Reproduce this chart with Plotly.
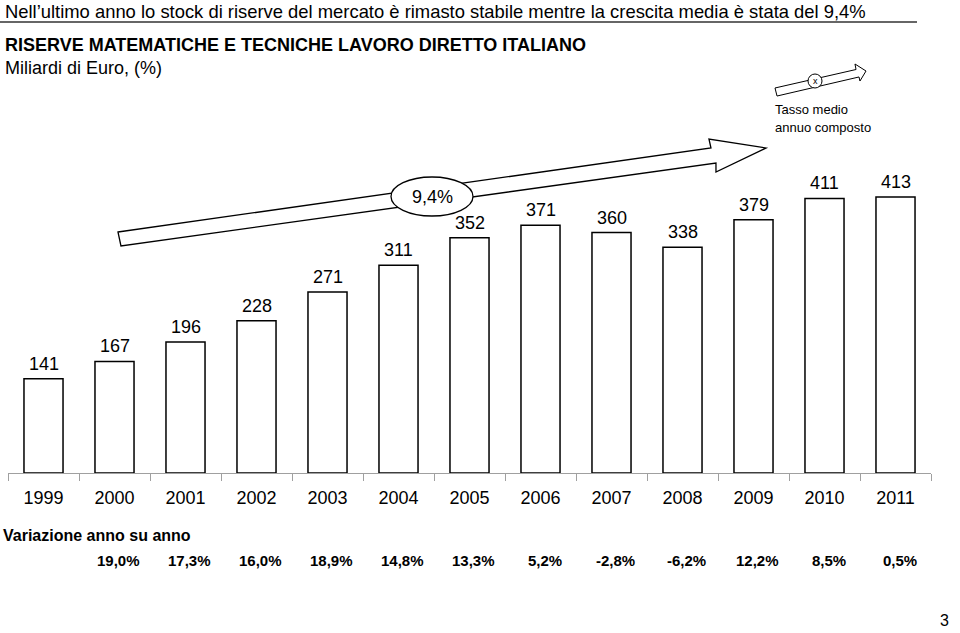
import plotly.graph_objects as go

# dati
anni = ["1999", "2000", "2001", "2002", "2003", "2004", "2005",
        "2006", "2007", "2008", "2009", "2010", "2011"]
riserve = [141, 167, 196, 228, 271, 311, 352, 371, 360, 338, 379, 411, 413]
anni_var = anni[1:]
variazione = ["19,0%", "17,3%", "16,0%", "18,9%", "14,8%", "13,3%",
              "5,2%", "-2,8%", "-6,2%", "12,2%", "8,5%", "0,5%"]
cagr = "9,4%"

W, H = 960, 633
FONT = "Arial, Liberation Sans, sans-serif"


def px(x):
    return x / W


def py(y):
    return 1 - y / H


def path(points):
    # punti in pixel -> path in coordinate paper
    s = "M" + " L".join("%.4f,%.4f" % (px(a), py(b)) for a, b in points)
    return s + " Z"


fig = go.Figure()
fig.add_trace(go.Bar(
    x=anni, y=riserve, width=0.55,
    marker=dict(color="white", line=dict(color="black", width=1.5)),
    hoverinfo="x+y",
))

# etichette sopra le barre (x come indice di categoria)
for i, v in enumerate(riserve):
    fig.add_annotation(x=i, y=v, text=str(v), showarrow=False,
                       yanchor="bottom", yshift=3,
                       font=dict(size=18, color="black", family=FONT))

# riga variazione anno su anno
for t in variazione:
    i = anni.index(anni_var[variazione.index(t)])
    fig.add_annotation(x=i, xref="x", y=py(560), yref="paper", text="<b>%s</b>" % t,
                       showarrow=False, xshift=4, yanchor="middle",
                       font=dict(size=15, color="black", family=FONT))

shapes = [
    # linea sotto il titolo
    dict(type="line", xref="paper", yref="paper", x0=0, x1=px(917),
         y0=py(22), y1=py(22), line=dict(color="#333333", width=1.5)),
    # freccia grande
    dict(type="path", xref="paper", yref="paper",
         path=path([(118, 232), (711, 148), (709, 139), (766, 148),
                    (716, 172), (716, 163), (121, 246)]),
         fillcolor="white", line=dict(color="black", width=1.3)),
    dict(type="circle", xref="paper", yref="paper",
         x0=px(391), x1=px(473), y0=py(177), y1=py(216),
         fillcolor="white", line=dict(color="black", width=1.3)),
    # legenda freccia piccola
    dict(type="path", xref="paper", yref="paper",
         path=path([(775, 88), (856, 69.5), (855, 64), (866, 71),
                    (860, 81), (859, 77), (777, 96)]),
         fillcolor="white", line=dict(color="black", width=1)),
    dict(type="circle", xref="paper", yref="paper",
         x0=px(808), x1=px(822), y0=py(74), y1=py(88),
         fillcolor="white", line=dict(color="black", width=1)),
]

texts = [
    (3, 11, "Nell’ultimo anno lo stock di riserve del mercato è rimasto stabile mentre la crescita media è stata del 9,4%", 18.4, "left"),
    (3, 45, "<b>RISERVE MATEMATICHE E TECNICHE LAVORO DIRETTO ITALIANO</b>", 18, "left"),
    (3, 68, "Miliardi di Euro, (%)", 18, "left"),
    (432, 197, cagr, 18, "center"),
    (815, 81, "x", 9, "center"),
    (773, 109, "Tasso medio", 13, "left"),
    (773, 128, "annuo composto", 13, "left"),
    (1, 535, "<b>Variazione anno su anno</b>", 16, "left"),
    (951, 620, "3", 16, "right"),
]
for x, y, t, s, anchor in texts:
    fig.add_annotation(x=px(x), y=py(y), xref="paper", yref="paper", text=t,
                       showarrow=False, xanchor=anchor, yanchor="middle",
                       font=dict(size=s, color="black", family=FONT))

fig.update_layout(
    width=W, height=H,
    margin=dict(l=0, r=0, t=0, b=0),
    paper_bgcolor="white", plot_bgcolor="white",
    showlegend=False, shapes=shapes,
    font=dict(family=FONT, color="black"),
    xaxis=dict(domain=[px(8), px(931)], type="category",
               range=[-0.5, len(anni) - 0.5], autorange=False,
               showline=True, linecolor="#a0a0a0", linewidth=1,
               ticks="outside", tickson="boundaries", ticklen=7,
               tickcolor="#a0a0a0", tickfont=dict(size=18, color="black"),
               ticklabelstandoff=8, showgrid=False, zeroline=False),
    yaxis=dict(domain=[py(473), py(172.4)], range=[0, 450],
               visible=False, showgrid=False, zeroline=False),
)

# niente margine del body, così la figura parte da (0, 0)
fig.write_html("out.html", config={"displayModeBar": False},
               post_script="document.body.style.margin='0';")
